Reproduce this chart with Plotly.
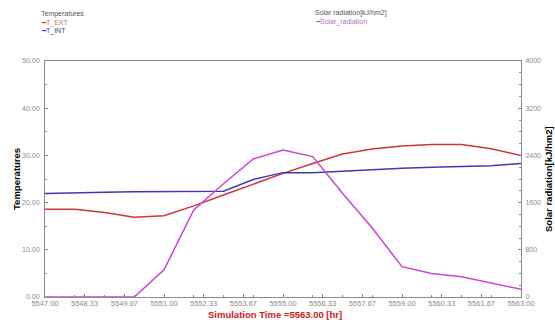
import plotly.graph_objects as go

# Hourly simulation output
hours = [5547, 5548, 5549, 5550, 5551, 5552, 5553, 5554, 5555,
         5556, 5557, 5558, 5559, 5560, 5561, 5562, 5563]
t_ext = [18.6, 18.6, 17.9, 16.9, 17.2, 19.3, 21.6, 23.9, 26.2,
         28.3, 30.3, 31.35, 32.0, 32.3, 32.3, 31.4, 30.0]
t_int = [21.95, 22.0, 22.2, 22.3, 22.3, 22.4, 22.4, 24.9, 26.35,
         26.35, 26.7, 27.0, 27.3, 27.5, 27.6, 27.8, 28.3]
solar = [0, 0, 0, 0, 460, 1475, 1920, 2340, 2490,
         2380, 1760, 1170, 514, 400, 343, 232, 130]

x_ticks = [5547.00, 5548.33, 5549.67, 5551.00, 5552.33, 5553.67, 5555.00,
           5556.33, 5557.67, 5559.00, 5560.33, 5561.67, 5563.00]
x_tick_labels = ["5547.00", "5548.33", "5549.67", "5551.00", "5552.33", "5553.67",
                 "5555.00", "5556.33", "5557.67", "5559.00", "5560.33", "5561.67",
                 "5563.00"]
t_ticks = [0, 10, 20, 30, 40, 50]
t_tick_labels = ["0.00", "10.00", "20.00", "30.00", "40.00", "50.00"]
s_ticks = [0, 800, 1600, 2400, 3200, 4000]
s_tick_labels = ["0", "800", "1600", "2400", "3200", "4000"]

RED = "#d0343a"
BLUE = "#3b3bb5"
MAGENTA = "#cc44d4"
GRAY = "#8a8a8a"
FONT = "Liberation Sans, Arial, sans-serif"

# plot area in pixels
L, R, T, B = 45, 521, 61, 297
W, H = R - L, B - T

fig = go.Figure()
fig.add_trace(go.Scatter(x=hours, y=t_ext, mode="lines", name="T_EXT",
                         line=dict(color=RED, width=1.5)))
fig.add_trace(go.Scatter(x=hours, y=t_int, mode="lines", name="T_INT",
                         line=dict(color=BLUE, width=1.5)))
fig.add_trace(go.Scatter(x=hours, y=solar, mode="lines", name="Solar_radiation",
                         yaxis="y2", line=dict(color=MAGENTA, width=1.5)))

axis_common = dict(showgrid=False, zeroline=False, showline=True,
                   linecolor=GRAY, linewidth=1, automargin=False,
                   ticks="inside", ticklen=3, tickcolor=GRAY)
minor_ticks = dict(ticks="inside", ticklen=2, tickcolor=GRAY, nticks=5)

fig.update_layout(
    width=555, height=320,
    margin=dict(l=L, r=555 - R, t=T, b=320 - B),
    paper_bgcolor="white", plot_bgcolor="white",
    showlegend=False,
    font=dict(family=FONT, color="black"),
    xaxis=dict(range=[5547, 5563], tickvals=x_ticks, ticktext=x_tick_labels,
               mirror=True, minor=minor_ticks, ticklabelstandoff=-1,
               tickfont=dict(family=FONT, size=7.5, color=GRAY),
               **axis_common),
    yaxis=dict(range=[0, 50], tickvals=t_ticks, ticktext=t_tick_labels,
               minor=minor_ticks, ticklabelstandoff=3,
               tickfont=dict(family=FONT, size=7, color=GRAY),
               **axis_common),
    yaxis2=dict(range=[0, 4000], tickvals=s_ticks, ticktext=s_tick_labels,
                overlaying="y", side="right",
                minor=minor_ticks, ticklabelstandoff=2,
                tickfont=dict(family=FONT, size=7, color=GRAY),
                **axis_common),
)


def px_x(x):
    return (x - L) / W


def px_y(y):
    return (B - y) / H


# Axis titles
titles = [
    (275, 314, "<b>Simulation Time =5563.00 [hr]</b>", "#cc2020", 9.5, 0),
    (16, 179, "<b>Temperatures</b>", "black", 9.5, -90),
    (548, 179, "<b>Solar radiation[kJ/hm2]</b>", "black", 9.5, -90),
]
for x, y, text, color, size, angle in titles:
    fig.add_annotation(xref="paper", yref="paper", x=px_x(x), y=px_y(y),
                       xanchor="center", yanchor="middle", showarrow=False,
                       textangle=angle, borderpad=0, text=text,
                       font=dict(family=FONT, size=size, color=color))

# Legend blocks for the two axis groups
legend_items = [
    (40, 14, "Temperatures", "#555555", None),
    (40, 23, "T_EXT", "#c77070", RED),
    (40, 31, "T_INT", "#44447a", BLUE),
    (314, 13, "Solar radiation[kJ/hm2]", "#555555", None),
    (314, 22, "Solar_radiation", "#b070c0", MAGENTA),
]
for x, y, label, tcolor, lcolor in legend_items:
    if lcolor:
        text = f"<span style='color:{lcolor}'>━</span>{label}"
    else:
        text = label
    fig.add_annotation(xref="paper", yref="paper", x=px_x(x), y=px_y(y),
                       xanchor="left", yanchor="middle", showarrow=False,
                       borderpad=0,
                       text=text, font=dict(family=FONT, size=7, color=tcolor))

fig.write_html("out.html")
